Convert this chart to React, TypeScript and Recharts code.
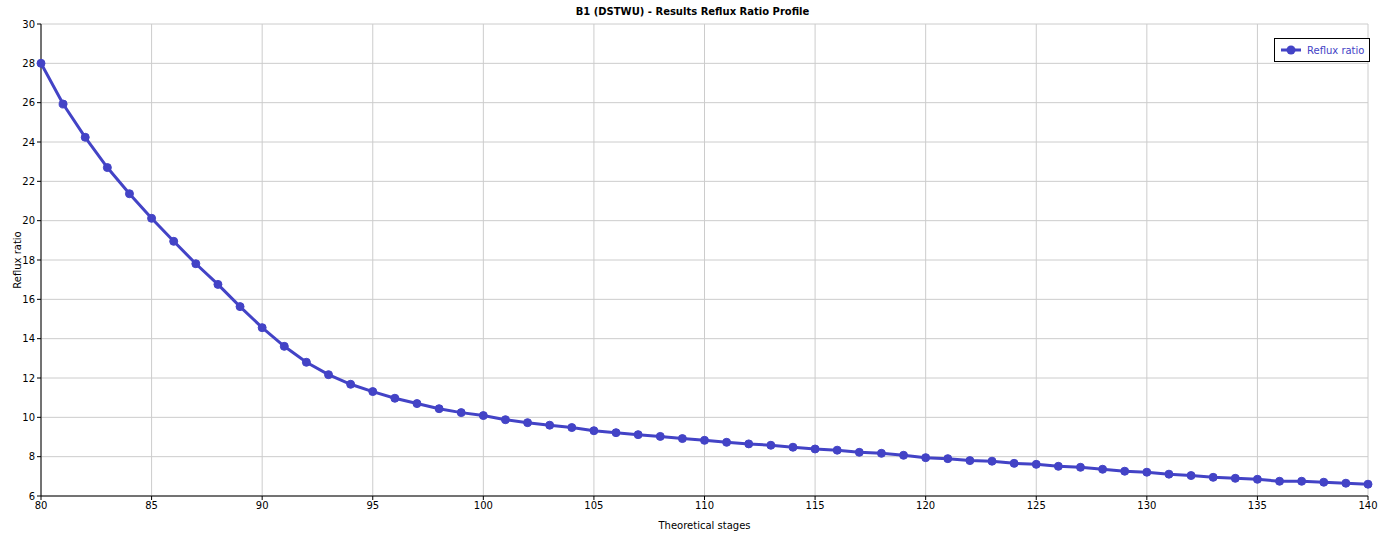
import { LineChart, Line, XAxis, YAxis, CartesianGrid, Label } from "recharts";

const stages = [
  80, 81, 82, 83, 84, 85, 86, 87, 88, 89, 90, 91, 92, 93, 94, 95, 96, 97, 98, 99, 100,
  101, 102, 103, 104, 105, 106, 107, 108, 109, 110, 111, 112, 113, 114, 115, 116, 117, 118, 119, 120,
  121, 122, 123, 124, 125, 126, 127, 128, 129, 130, 131, 132, 133, 134, 135, 136, 137, 138, 139, 140,
];
const refluxRatio = [
  28.0, 25.93, 24.24, 22.7, 21.37, 20.12, 18.95, 17.81, 16.76, 15.63, 14.56, 13.61, 12.8, 12.17, 11.68, 11.31, 10.97, 10.7, 10.44, 10.24, 10.09,
  9.88, 9.73, 9.6, 9.48, 9.32, 9.22, 9.12, 9.03, 8.92, 8.83, 8.73, 8.65, 8.58, 8.48, 8.39, 8.33, 8.22, 8.17, 8.07, 7.95,
  7.9, 7.8, 7.77, 7.66, 7.61, 7.51, 7.46, 7.36, 7.26, 7.21, 7.11, 7.04, 6.95, 6.9, 6.85, 6.75, 6.75, 6.7, 6.65, 6.6,
];
const xTicks = [80, 85, 90, 95, 100, 105, 110, 115, 120, 125, 130, 135, 140];
const yTicks = [6, 8, 10, 12, 14, 16, 18, 20, 22, 24, 26, 28, 30];

const data = stages.map((s, i) => ({ stage: s, reflux: refluxRatio[i] }));

const BLUE = "#4343c6";
const FONT = "'DejaVu Sans', Verdana, sans-serif";

function LegendBox() {
  return (
    <div
      style={{
        position: "absolute",
        top: 38,
        left: 1274,
        width: 94,
        height: 22,
        boxSizing: "content-box",
        border: "1px solid #000",
        background: "#fff",
        display: "flex",
        alignItems: "center",
        fontFamily: FONT,
        fontSize: 10,
        color: BLUE,
      }}
    >
      <svg width={20} height={10} style={{ marginLeft: 6, marginRight: 6 }}>
        <line x1={0} y1={5} x2={20} y2={5} stroke={BLUE} strokeWidth={3} />
        <circle cx={10} cy={5} r={4.5} fill={BLUE} />
      </svg>
      Reflux ratio
    </div>
  );
}

export default function App() {
  return (
    <div style={{ position: "absolute", left: 0, top: 0, width: 1385, height: 540, background: "#fff" }}>
      <div
        style={{
          position: "absolute",
          top: 6,
          width: 1385,
          textAlign: "center",
          fontFamily: FONT,
          fontWeight: "bold",
          fontSize: 10,
          color: "#000",
        }}
      >
        B1 (DSTWU) - Results Reflux Ratio Profile
      </div>
      <LineChart width={1385} height={540} data={data} margin={{ top: 24, right: 17, left: 11, bottom: 0 }}>
        <CartesianGrid stroke="#cccccc" strokeWidth={1} />
        <XAxis
          dataKey="stage"
          type="number"
          domain={[80, 140]}
          ticks={xTicks}
          stroke="#000"
          tickSize={4}
          height={44}
          tick={{ fill: "#000", fontSize: 10, fontFamily: FONT }}
          allowDecimals={false}
        >
          <Label value="Theoretical stages" position="insideBottom" offset={11} style={{ fill: "#000", fontSize: 10, fontFamily: FONT }} />
        </XAxis>
        <YAxis
          type="number"
          domain={[6, 30]}
          ticks={yTicks}
          stroke="#000"
          tickSize={4}
          width={30}
          tick={{ fill: "#000", fontSize: 10, fontFamily: FONT }}
        >
          <Label
            value="Reflux ratio"
            angle={-90}
            position="insideLeft"
            offset={6}
            style={{ fill: "#000", fontSize: 10, fontFamily: FONT, textAnchor: "middle" }}
          />
        </YAxis>
        <Line
          dataKey="reflux"
          name="Reflux ratio"
          stroke={BLUE}
          strokeWidth={3}
          dot={{ r: 4, fill: BLUE, stroke: BLUE, strokeWidth: 1 }}
          isAnimationActive={false}
        />
      </LineChart>
      <LegendBox />
    </div>
  );
}
